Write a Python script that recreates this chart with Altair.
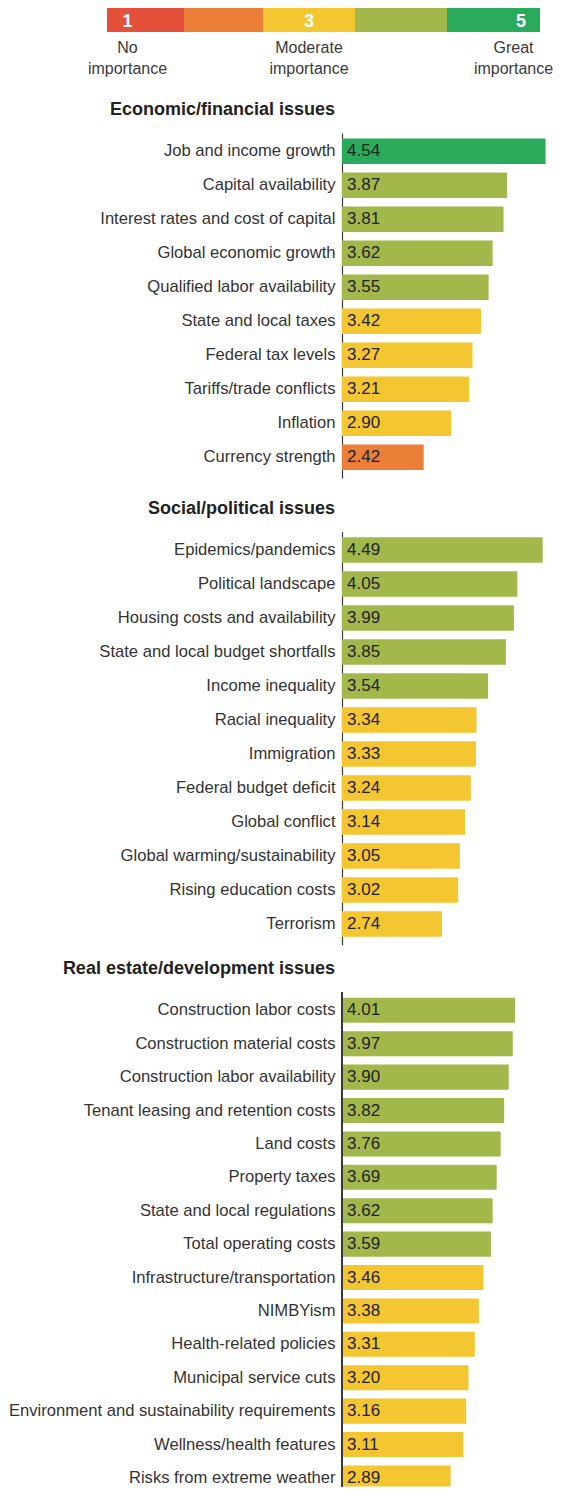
import altair as alt
import pandas as pd

# ---------------- data ----------------
econ_labels = [
    "Job and income growth", "Capital availability", "Interest rates and cost of capital",
    "Global economic growth", "Qualified labor availability", "State and local taxes",
    "Federal tax levels", "Tariffs/trade conflicts", "Inflation", "Currency strength",
]
econ_values = [4.54, 3.87, 3.81, 3.62, 3.55, 3.42, 3.27, 3.21, 2.90, 2.42]

social_labels = [
    "Epidemics/pandemics", "Political landscape", "Housing costs and availability",
    "State and local budget shortfalls", "Income inequality", "Racial inequality",
    "Immigration", "Federal budget deficit", "Global conflict",
    "Global warming/sustainability", "Rising education costs", "Terrorism",
]
social_values = [4.49, 4.05, 3.99, 3.85, 3.54, 3.34, 3.33, 3.24, 3.14, 3.05, 3.02, 2.74]

re_labels = [
    "Construction labor costs", "Construction material costs", "Construction labor availability",
    "Tenant leasing and retention costs", "Land costs", "Property taxes",
    "State and local regulations", "Total operating costs", "Infrastructure/transportation",
    "NIMBYism", "Health-related policies", "Municipal service cuts",
    "Environment and sustainability requirements", "Wellness/health features",
    "Risks from extreme weather",
]
re_values = [4.01, 3.97, 3.90, 3.82, 3.76, 3.69, 3.62, 3.59, 3.46, 3.38, 3.31, 3.20, 3.16, 3.11, 2.89]

section_titles = ["Economic/financial issues", "Social/political issues", "Real estate/development issues"]

legend_scores = [1, 2, 3, 4, 5]
legend_numbers = ["1", "", "3", "", "5"]
legend_desc = ["No\nimportance", "", "Moderate\nimportance", "", "Great\nimportance"]

# ---------------- styles ----------------
FONT = "'Liberation Sans', Arial, sans-serif"
palette = ["#E5503B", "#EC7F38", "#F4C732", "#A3B84B", "#2AAB5B"]
color_scale = alt.Scale(type="threshold", domain=[1.5, 2.5, 3.5, 4.5], range=palette)
x_scale = alt.Scale(domain=[1, 4.6], zero=False, nice=False)
AXIS_COLOR = "#3a3a3a"
PAD_IN, PAD_OUT, ALIGN = 0.25, 0.1985, 0.4


def panel(title, labels, values, offset, step=34.0, visible_height=None):
    df = pd.DataFrame({"issue": labels, "score": values})
    n = len(labels)
    full_height = step * (n - PAD_IN + 2 * PAD_OUT)
    height = visible_height or full_height
    clipped = visible_height is not None
    scale_kw = dict(paddingInner=PAD_IN, paddingOuter=PAD_OUT, align=ALIGN)
    if clipped:
        scale_kw["range"] = [0, full_height]
    y = alt.Y(
        "issue:N", sort=None, scale=alt.Scale(**scale_kw),
        axis=alt.Axis(title=None, ticks=False, labelPadding=7, labelFont=FONT,
                      labelFontSize=16.6, labelColor="#333333", domain=not clipped,
                      domainColor=AXIS_COLOR, domainWidth=1.2, labelLimit=500),
    )
    base = alt.Chart(df)
    bars = base.mark_bar(clip=True).encode(
        x=alt.X("score:Q", scale=x_scale, axis=None),
        x2=alt.datum(1),
        y=y,
        color=alt.Color("score:Q", scale=color_scale, legend=None),
    )
    txt = base.mark_text(align="left", baseline="middle", dx=5, font=FONT,
                         fontSize=17, color="#222222").encode(
        x=alt.datum(1), y=y, text=alt.Text("score:Q", format=".2f"))
    layers = [bars, txt]
    if clipped:
        axis_line = alt.Chart(df).mark_rule(color=AXIS_COLOR, strokeWidth=1.2).encode(
            x=alt.datum(1), y=alt.value(0), y2=alt.value(height))
        layers.append(axis_line)
    return alt.layer(*layers).properties(
        width=207, height=height,
        title=alt.TitleParams(title, anchor="start", frame="group", align="right", dx=-7,
                              offset=offset, font=FONT, fontSize=18, fontWeight="bold",
                              color="#222222"),
    )


# legend
leg_df = pd.DataFrame({"score": legend_scores, "num": legend_numbers, "desc": legend_desc})
leg_scale = alt.Scale(domain=[0.5, 1.5, 2.5, 3.5, 4.5, 5.5],
                      range=[-235, -158, -79, 13, 105, 198], zero=False, nice=False)
leg_base = alt.Chart(leg_df).transform_calculate(lo="datum.score - 0.5", hi="datum.score + 0.5")
leg_rect = leg_base.mark_rect().encode(
    x=alt.X("lo:Q", scale=leg_scale, axis=None), x2="hi:Q",
    y=alt.value(0), y2=alt.value(24),
    color=alt.Color("score:Q", scale=color_scale, legend=None),
)


def leg_mark(score, dx, dx_desc):
    sub = leg_base.transform_filter(alt.datum.score == score)
    num = sub.mark_text(
        font=FONT, fontSize=18, fontWeight="bold", color="white", dx=dx, baseline="middle"
    ).encode(x=alt.X("score:Q", scale=leg_scale, axis=None), y=alt.value(14), text="num:N")
    desc = sub.mark_text(
        font=FONT, fontSize=16, color="#3a3a3a", align="center", dx=dx_desc, baseline="top",
        lineBreak="\n", lineHeight=21,
    ).encode(x=alt.X("score:Q", scale=leg_scale, axis=None), y=alt.value(32), text="desc:N")
    return [num, desc]


legend = alt.layer(
    leg_rect, *leg_mark(1, -18, -18), *leg_mark(3, 0, 0), *leg_mark(5, 27.5, 20)
).properties(width=198, height=24)

p1 = panel(section_titles[0], econ_labels, econ_values, 13.8)
p2 = panel(section_titles[1], social_labels, social_values, 13.8)
p3 = panel(section_titles[2], re_labels, re_values, 13.8, step=33.4, visible_height=494)

top = alt.vconcat(alt.vconcat(legend, p1, spacing=24), p2, spacing=21.8)
chart = alt.vconcat(top, p3, spacing=14.5).properties(
    padding=0, background="white"
).configure_view(stroke=None)

chart.save("out.html", embed_options={"renderer": "svg", "actions": False})
